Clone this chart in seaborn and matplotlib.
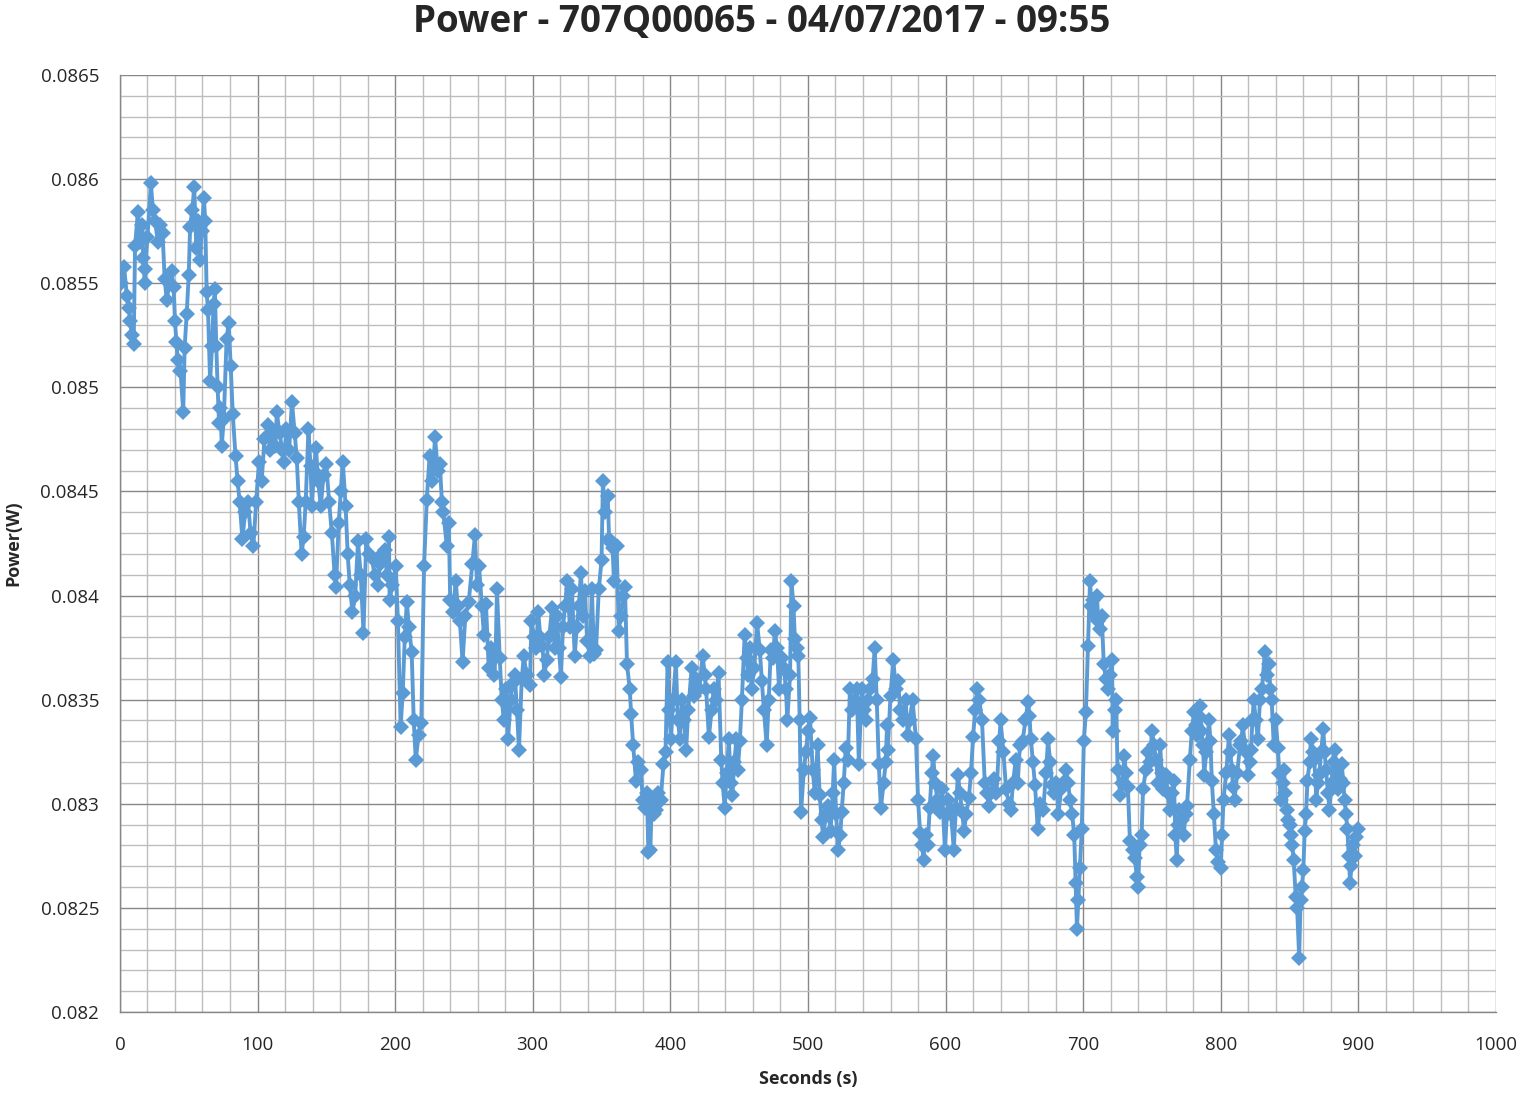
import numpy as np
import pandas as pd
import matplotlib
matplotlib.use("Agg")
import matplotlib.pyplot as plt
from matplotlib.ticker import MultipleLocator, FormatStrFormatter
import seaborn as sns

# sample times (s)
seconds = [
    0, 1, 3, 5, 6.5, 7.5, 8.5, 10, 11, 13,
    14.5, 16, 17, 18, 18.5, 20, 22.5, 24, 25.5, 27.5,
    29, 31, 32.5, 34, 36, 37.5, 39, 40, 41, 42,
    44, 46, 47, 48.5, 50, 51, 52.5, 54, 55.5, 57,
    58, 59.5, 61, 62, 63, 64, 65.5, 67, 68, 69,
    70, 71, 72, 73, 74, 75.5, 77.5, 79, 80.5, 82,
    84, 85.5, 87, 89, 91, 93, 95, 97, 99, 101,
    103, 105, 107.5, 109, 111, 113, 114, 116, 118, 119,
    121, 123, 125, 127, 128.5, 130, 132, 133.5, 135, 137,
    138.5, 139.5, 141, 142.5, 144, 146, 148, 150, 152, 154,
    156, 157, 159, 160.5, 162, 164, 165.5, 167, 169, 171,
    173, 175, 177, 179, 181, 183, 185, 187.5, 189, 190.5,
    192.5, 194, 195.5, 196, 198, 200.5, 202, 204, 205.5, 207,
    208.5, 210, 212, 213.5, 215, 217, 219, 221, 223, 225,
    227, 229, 231, 232.5, 234, 235, 237.5, 239, 240, 242,
    244, 245.5, 247, 249, 251, 253.5, 256, 258, 259.5, 261,
    263, 264.5, 266, 268, 270, 272, 273, 274, 276, 277.5,
    279, 280.5, 282, 284, 285.5, 287, 288.5, 290, 292, 293.5,
    295.5, 298, 299, 301, 302.5, 304, 305.5, 307, 308.5, 310,
    312, 314, 316, 317.5, 319, 320.5, 322, 323.5, 325, 327,
    328.5, 330.5, 332, 333.5, 335, 336.5, 338, 339.5, 341.5, 343,
    344.5, 346, 348, 350, 351, 352.5, 354.5, 355.5, 357, 358,
    359, 361, 362.5, 364, 365.5, 367, 368.5, 370.5, 371.5, 373,
    375, 376.5, 378.5, 380, 381.5, 383, 384, 385.5, 386.5, 388,
    389.5, 391, 393, 395, 396.5, 398, 399, 400.5, 402, 404,
    405.5, 407, 408.5, 410, 411.5, 413, 415.5, 417, 419, 421,
    423.5, 425, 426, 428, 430, 431.5, 433, 435, 437, 438,
    439.5, 441, 442.5, 444, 445, 446.5, 448, 449, 450.5, 452,
    454, 455.5, 456.5, 458, 459, 461, 463, 465, 466.5, 468,
    470, 471.5, 473, 474.5, 476, 477.5, 479, 481, 482.5, 484,
    485, 487, 488, 489.5, 490.5, 492, 493, 494, 495, 497,
    498.5, 500, 501.5, 503.5, 505, 507, 508.5, 510, 511, 513,
    514.5, 516.5, 518, 519, 520.5, 522, 523.5, 524.5, 526, 527.5,
    529, 530.5, 532, 534, 535.5, 537, 539, 540.5, 542, 543.5,
    545, 547, 548.5, 550, 551.5, 553, 555, 556.5, 557.5, 558,
    560, 562, 564, 565.5, 567, 569, 571, 572.5, 574, 576,
    578.5, 580, 581.5, 583, 584, 585.5, 587, 588.5, 590, 591,
    592.5, 594, 596, 597.5, 599.5, 601, 602, 604, 606, 607.5,
    609, 610.5, 612, 613.5, 615, 617, 618.5, 620, 621.5, 623,
    624.5, 626.5, 628.5, 630, 631.5, 633, 635, 637, 639, 640,
    642, 644, 646, 647.5, 649, 651, 652.5, 654, 656, 658,
    660, 661, 662, 663.5, 665, 667, 669, 671, 673, 674.5,
    676, 677.5, 679, 680.5, 682, 684, 685.5, 687.5, 689, 690.5,
    692, 693.5, 694.5, 695.5, 696.5, 697.5, 699, 700.5, 702, 703.5,
    705, 706, 707, 708.5, 710, 711, 712, 713.5, 715, 716.5,
    718, 719.5, 721, 721.5, 723, 724, 725, 727, 728.5, 730,
    731, 732.5, 734, 736, 737.5, 739, 740, 741, 742.5, 743.5,
    745.5, 747, 748.5, 750, 751.5, 753, 754.5, 756, 757, 758,
    760, 761.5, 763, 764.5, 766, 767, 768, 769, 770, 771.5,
    773, 774.5, 775.5, 777.5, 779, 780.5, 782, 783, 784, 785,
    786, 787, 788, 789.5, 791.5, 792.5, 793.5, 795, 796.5, 798,
    800, 801, 802, 804, 806, 807, 808, 809, 810, 812,
    814, 815, 816, 818, 820, 821, 822, 823, 824, 825.5,
    827, 828.5, 830, 832, 833.5, 835, 836, 837, 838.5, 840,
    841.5, 842.5, 843.5, 845, 846, 847, 848, 849, 850, 851,
    852, 853, 854.5, 855.5, 857, 858, 859, 860, 861, 862,
    863, 864.5, 865.5, 867, 868, 869.5, 870.5, 871.5, 873, 874.5,
    875.5, 876.5, 878, 879, 880.5, 882, 883, 884, 885, 886.5,
    888, 889, 890, 891, 892, 893, 894, 895, 896, 897.5,
    898.5, 900,
]

# power in mW, one per sample above
power_mw = [
    85.50, 85.50, 85.58, 85.44, 85.38, 85.32, 85.25, 85.21, 85.68, 85.84,
    85.70, 85.78, 85.62, 85.50, 85.57, 85.72, 85.98, 85.85, 85.80, 85.70,
    85.78, 85.74, 85.52, 85.42, 85.50, 85.56, 85.48, 85.32, 85.22, 85.13,
    85.08, 84.88, 85.19, 85.35, 85.54, 85.77, 85.85, 85.96, 85.67, 85.80,
    85.61, 85.75, 85.91, 85.80, 85.46, 85.37, 85.03, 85.20, 85.40, 85.47,
    85.20, 85.00, 84.83, 84.90, 84.72, 84.85, 85.23, 85.31, 85.10, 84.87,
    84.67, 84.55, 84.45, 84.27, 84.40, 84.45, 84.30, 84.24, 84.45, 84.64,
    84.55, 84.75, 84.82, 84.70, 84.78, 84.72, 84.88, 84.78, 84.70, 84.64,
    84.80, 84.70, 84.93, 84.78, 84.66, 84.45, 84.20, 84.28, 84.45, 84.80,
    84.62, 84.43, 84.60, 84.71, 84.55, 84.43, 84.58, 84.63, 84.45, 84.30,
    84.10, 84.04, 84.35, 84.50, 84.64, 84.43, 84.20, 84.05, 83.92, 84.00,
    84.26, 84.10, 83.82, 84.27, 84.20, 84.18, 84.10, 84.05, 84.15, 84.20,
    84.22, 84.10, 84.28, 83.98, 84.05, 84.14, 83.88, 83.37, 83.53, 83.80,
    83.97, 83.85, 83.73, 83.40, 83.21, 83.33, 83.39, 84.14, 84.46, 84.67,
    84.55, 84.76, 84.60, 84.63, 84.45, 84.40, 84.24, 84.35, 83.98, 83.92,
    84.07, 83.95, 83.88, 83.68, 83.90, 83.97, 84.15, 84.29, 84.05, 84.14,
    83.95, 83.81, 83.96, 83.65, 83.75, 83.62, 83.71, 84.03, 83.70, 83.50,
    83.40, 83.55, 83.31, 83.50, 83.58, 83.62, 83.45, 83.26, 83.60, 83.71,
    83.62, 83.57, 83.88, 83.80, 83.75, 83.92, 83.80, 83.76, 83.62, 83.69,
    83.80, 83.94, 83.75, 83.90, 83.75, 83.61, 83.85, 83.95, 84.07, 83.85,
    84.03, 83.71, 83.85, 83.95, 84.11, 83.90, 84.02, 83.78, 83.71, 84.03,
    83.72, 83.74, 84.03, 84.17, 84.55, 84.40, 84.48, 84.27, 84.25, 84.23,
    84.07, 84.24, 83.83, 83.90, 84.00, 84.04, 83.67, 83.55, 83.43, 83.28,
    83.11, 83.20, 83.16, 83.02, 82.98, 83.05, 82.77, 82.78, 83.02, 82.95,
    82.97, 83.05, 83.02, 83.19, 83.25, 83.68, 83.45, 83.31, 83.50, 83.68,
    83.40, 83.31, 83.50, 83.40, 83.26, 83.45, 83.65, 83.52, 83.60, 83.55,
    83.71, 83.62, 83.55, 83.32, 83.45, 83.55, 83.50, 83.63, 83.21, 83.10,
    82.98, 83.15, 83.31, 83.10, 83.04, 83.20, 83.31, 83.16, 83.30, 83.50,
    83.81, 83.70, 83.62, 83.75, 83.55, 83.65, 83.87, 83.74, 83.59, 83.45,
    83.28, 83.50, 83.74, 83.70, 83.83, 83.75, 83.55, 83.70, 83.65, 83.55,
    83.40, 83.62, 84.07, 83.95, 83.79, 83.75, 83.71, 83.40, 82.96, 83.16,
    83.25, 83.35, 83.41, 83.16, 83.05, 83.28, 83.04, 82.92, 82.84, 82.95,
    82.99, 82.87, 83.05, 83.21, 82.95, 82.78, 82.85, 82.96, 83.10, 83.27,
    83.21, 83.55, 83.45, 83.50, 83.55, 83.19, 83.55, 83.45, 83.40, 83.50,
    83.55, 83.60, 83.75, 83.50, 83.19, 82.98, 83.10, 83.20, 83.38, 83.26,
    83.52, 83.69, 83.55, 83.59, 83.45, 83.40, 83.50, 83.33, 83.40, 83.50,
    83.31, 83.02, 82.86, 82.80, 82.73, 82.85, 82.80, 82.98, 83.15, 83.23,
    83.10, 83.02, 82.96, 83.07, 82.78, 82.95, 83.02, 82.95, 82.78, 82.98,
    83.14, 83.05, 82.96, 82.87, 82.95, 83.03, 83.15, 83.32, 83.45, 83.55,
    83.50, 83.40, 83.10, 83.05, 82.99, 83.05, 83.12, 83.05, 83.30, 83.40,
    83.25, 83.07, 83.00, 82.97, 83.10, 83.21, 83.10, 83.28, 83.30, 83.40,
    83.49, 83.42, 83.31, 83.20, 83.09, 82.88, 83.00, 82.97, 83.15, 83.31,
    83.20, 83.09, 83.05, 83.10, 82.95, 83.07, 83.10, 83.16, 83.10, 83.02,
    82.95, 82.85, 82.62, 82.40, 82.54, 82.69, 82.88, 83.30, 83.44, 83.76,
    84.07, 83.95, 83.98, 83.90, 84.00, 83.88, 83.84, 83.90, 83.67, 83.60,
    83.55, 83.62, 83.69, 83.35, 83.45, 83.50, 83.16, 83.04, 83.10, 83.23,
    83.15, 83.08, 82.82, 82.78, 82.74, 82.65, 82.60, 82.80, 82.85, 83.07,
    83.16, 83.25, 83.20, 83.35, 83.28, 83.21, 83.10, 83.28, 83.15, 83.07,
    83.14, 83.05, 82.97, 83.05, 83.11, 82.85, 82.73, 82.90, 82.97, 82.92,
    82.85, 82.95, 82.99, 83.21, 83.35, 83.44, 83.38, 83.33, 83.42, 83.47,
    83.35, 83.28, 83.14, 83.25, 83.40, 83.30, 83.11, 82.95, 82.78, 82.72,
    82.69, 82.85, 83.02, 83.15, 83.33, 83.25, 83.16, 83.08, 83.02, 83.15,
    83.28, 83.30, 83.38, 83.25, 83.14, 83.20, 83.26, 83.40, 83.50, 83.40,
    83.31, 83.50, 83.55, 83.73, 83.62, 83.67, 83.55, 83.50, 83.28, 83.40,
    83.27, 83.15, 83.02, 83.10, 83.16, 83.05, 82.97, 82.92, 82.90, 82.85,
    82.80, 82.73, 82.55, 82.50, 82.26, 82.54, 82.60, 82.68, 82.87, 82.95,
    83.11, 83.20, 83.31, 83.25, 83.21, 83.02, 83.10, 83.14, 83.25, 83.36,
    83.25, 83.16, 83.05, 82.97, 83.10, 83.20, 83.26, 83.15, 83.07, 83.12,
    83.19, 83.10, 83.02, 82.95, 82.88, 82.75, 82.62, 82.70, 82.80, 82.75,
    82.84, 82.88,
]

title = "Power - 707Q00065 - 04/07/2017 - 09:55"
line_color = "#5B9BD5"

df = pd.DataFrame({"seconds": seconds, "power": np.array(power_mw) / 1000.0})

sns.set_style("white")
plt.rcParams["font.family"] = ["Open Sans", "DejaVu Sans"]

fig = plt.figure(figsize=(15.24, 10.93), dpi=100)
ax = fig.add_axes([0.0787, 0.0741, 0.9029, 0.8573])

# thick line with diamond markers, like the spreadsheet original
sns.lineplot(data=df, x="seconds", y="power", ax=ax, color=line_color,
             linewidth=2.8, marker="D", markersize=8, markeredgewidth=0,
             estimator=None, sort=False, zorder=3)

ax.set_xlim(0, 1000)
ax.set_ylim(0.082, 0.0865)
ax.xaxis.set_major_locator(MultipleLocator(100))
ax.xaxis.set_minor_locator(MultipleLocator(20))
ax.yaxis.set_major_locator(MultipleLocator(0.0005))
ax.yaxis.set_minor_locator(MultipleLocator(0.0001))
ax.yaxis.set_major_formatter(FormatStrFormatter("%g"))

ax.grid(which="major", color="#878787", linewidth=1.0)
ax.grid(which="minor", color="#BDBDBD", linewidth=1.0)
ax.set_axisbelow(True)

for side in ["top", "right"]:
    ax.spines[side].set_visible(False)
for side in ["left", "bottom"]:
    ax.spines[side].set_color("#878787")
    ax.spines[side].set_linewidth(1.0)

ax.tick_params(axis="both", which="major", labelsize=13.5, length=5,
               color="#878787", direction="out")
ax.tick_params(axis="y", which="major", pad=10)
ax.tick_params(axis="x", which="major", pad=12)
ax.tick_params(axis="both", which="minor", length=0)

ax.set_xlabel("Seconds (s)", fontsize=13, fontweight="bold", labelpad=12)
ax.set_ylabel("Power(W)", fontsize=13, fontweight="bold")
ax.yaxis.set_label_coords(-0.071, 0.5)
fig.suptitle(title, fontsize=26.5, fontweight="bold", y=0.997)

plt.savefig("out.png", dpi=100)
